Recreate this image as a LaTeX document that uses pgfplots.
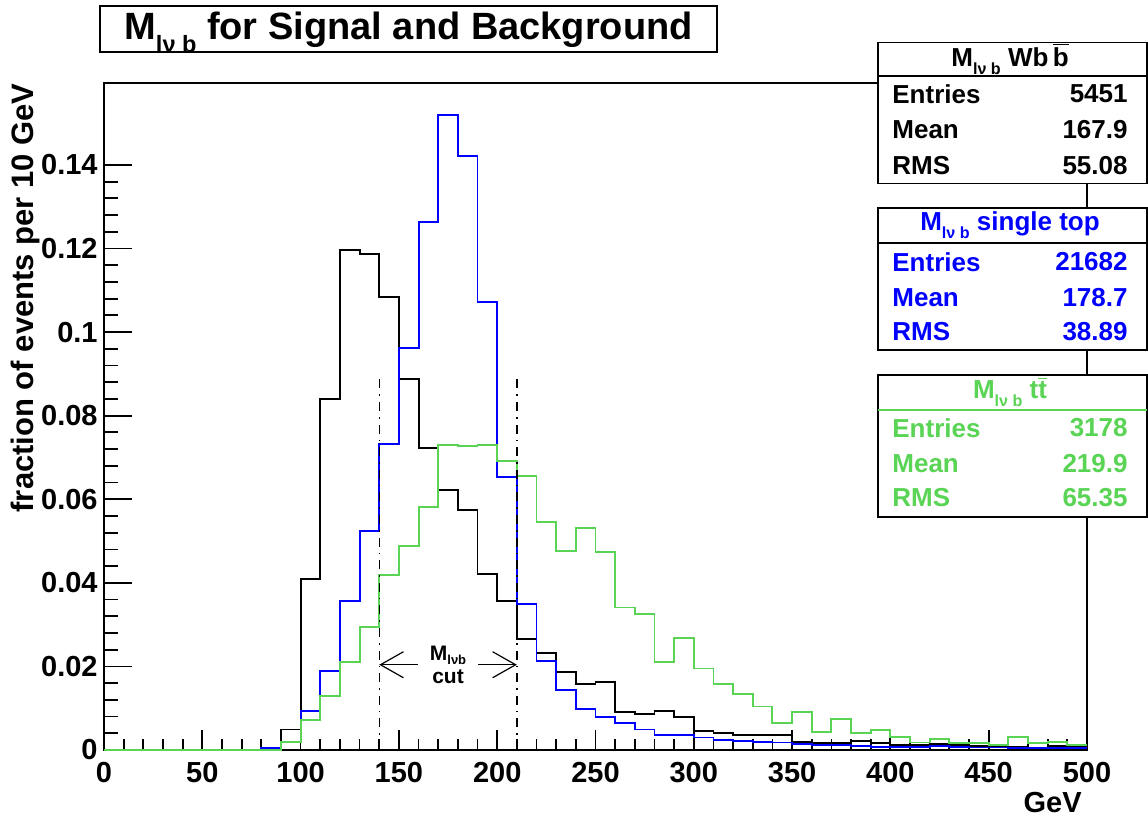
\documentclass[border=0pt]{standalone}
\usepackage{pgfplots}
\pgfplotsset{compat=1.18}
\usepackage{pgfplotstable}
\usepackage{fontspec}
\setmainfont{Liberation Sans}
\usepackage{graphicx}
\usetikzlibrary{arrows.meta}
\definecolor{rootgreen}{RGB}{89,212,84}
\definecolor{rootblue}{RGB}{0,0,255}
\newcommand{\sub}[1]{\raisebox{-0.32em}{\scalebox{0.62}{#1}}}
\newcommand{\fT}{\fontsize{19pt}{22pt}\selectfont\bfseries}
\newcommand{\fA}{\fontsize{14.5pt}{17pt}\selectfont\bfseries}
\newcommand{\fY}{\fontsize{15.5pt}{18pt}\selectfont\bfseries}
\newcommand{\fS}{\fontsize{13pt}{15pt}\selectfont\bfseries}
\newcommand{\fC}{\fontsize{10.5pt}{12pt}\selectfont\bfseries}

\pgfplotstableread{
x y
0 0
10 0
20 0
30 0
40 0
50 0
60 0
70 0
80 0
90 0.0049
100 0.0410
110 0.0840
120 0.1196
130 0.1186
140 0.1084
150 0.0888
160 0.0723
170 0.0622
180 0.0574
190 0.0422
200 0.0356
210 0.0266
220 0.0232
230 0.0187
240 0.0157
250 0.0162
260 0.0091
270 0.0086
280 0.0094
290 0.0078
300 0.0045
310 0.0040
320 0.0036
330 0.0036
340 0.0035
350 0.0019
360 0.0017
370 0.0017
380 0.0022
390 0.0017
400 0.0011
410 0.0012
420 0.0014
430 0.0011
440 0.0010
450 0.0009
460 0.0008
470 0.0006
480 0.0010
490 0.0010
500 0.0010
}\wbb

\pgfplotstableread{
x y
0 0
10 0
20 0
30 0
40 0
50 0
60 0
70 0
80 0.0004
90 0.0020
100 0.0094
110 0.0188
120 0.0356
130 0.0523
140 0.0732
150 0.0962
160 0.1264
170 0.1519
180 0.1421
190 0.1071
200 0.0654
210 0.0349
220 0.0212
230 0.0143
240 0.0098
250 0.0078
260 0.0065
270 0.0049
280 0.0036
290 0.0036
300 0.0030
310 0.0025
320 0.0021
330 0.0020
340 0.0018
350 0.0014
360 0.0012
370 0.0011
380 0.0009
390 0.0008
400 0.0008
410 0.0008
420 0.0009
430 0.0008
440 0.0006
450 0.0006
460 0.0005
470 0.0005
480 0.0005
490 0.0005
500 0.0005
}\stop

\pgfplotstableread{
x y
0 0
10 0
20 0
30 0
40 0
50 0
60 0
70 0
80 0
90 0.0020
100 0.0072
110 0.0130
120 0.0210
130 0.0294
140 0.0419
150 0.0488
160 0.0582
170 0.0730
180 0.0728
190 0.0730
200 0.0692
210 0.0656
220 0.0546
230 0.0477
240 0.0531
250 0.0474
260 0.0341
270 0.0325
280 0.0211
290 0.0268
300 0.0195
310 0.0157
320 0.0135
330 0.0104
340 0.0065
350 0.0090
360 0.0043
370 0.0075
380 0.0040
390 0.0047
400 0.0031
410 0.0018
420 0.0027
430 0.0016
440 0.0016
450 0.0012
460 0.0031
470 0.0016
480 0.0019
490 0.0012
500 0.0012
}\ttbar

\begin{document}
\begin{tikzpicture}
\useasboundingbox (0pt,0pt) rectangle (574pt,410.5pt);
% x ticks axis
\begin{axis}[at={(52pt,35.5pt)}, anchor=south west, scale only axis,
  width=491.5pt, height=333.5pt, xmin=0, xmax=500, ymin=0, ymax=0.1596,
  axis line style={draw=none},
  xtick={0,50,...,500}, xticklabels={0,50,100,150,200,250,300,350,400,450,500},
  minor x tick num=4, ytick=\empty, xtick pos=left, tick align=inside,
  major tick length=10pt, minor tick length=5.5pt,
  tick style={black, line width=0.9pt},
  xticklabel style={font=\fA, inner sep=0pt, anchor=north, yshift=-6pt}]
\end{axis}
% main axis
\begin{axis}[at={(52pt,35.5pt)}, anchor=south west, scale only axis,
  width=491.5pt, height=333.5pt, xmin=0, xmax=500, ymin=0, ymax=0.1596,
  clip=false, axis line style={black, line width=1pt},
  xtick=\empty,
  ytick={0,0.02,0.04,0.06,0.08,0.1,0.12,0.14},
  yticklabels={0,0.02,0.04,0.06,0.08,0.1,0.12,0.14},
  minor y tick num=4, ytick pos=left, tick align=inside,
  major tick length=14pt, minor tick length=7pt,
  tick style={black, line width=0.9pt},
  yticklabel style={font=\fA, inner sep=0pt, anchor=east, xshift=-3pt}]
\addplot[const plot mark left, mark=none, black, line width=0.95pt] table[x=x,y=y] {\wbb};
\addplot[const plot mark left, mark=none, rootblue, line width=0.95pt] table[x=x,y=y] {\stop};
\addplot[const plot mark left, mark=none, rootgreen, line width=0.95pt] table[x=x,y=y] {\ttbar};
\draw[black, line width=0.7pt, dash pattern=on 4.5pt off 3pt on 0.8pt off 3pt] (axis cs:140,0) -- (axis cs:140,0.0897);
\draw[black, line width=0.7pt, dash pattern=on 4.5pt off 3pt on 0.8pt off 3pt] (axis cs:210,0) -- (axis cs:210,0.0897);
\draw[black, line width=0.6pt, {Straight Barb[length=11.5pt,width=13pt]}-] (axis cs:140,0.0204) -- (axis cs:159.7,0.0204);
\draw[black, line width=0.6pt, -{Straight Barb[length=11.5pt,width=13pt]}] (axis cs:190.3,0.0204) -- (axis cs:210,0.0204);
\node[anchor=base, inner sep=0pt, font=\fC] at (axis cs:175,0.0213) {M\raisebox{-0.18em}{\scalebox{0.62}{lνb}}};
\node[anchor=base, inner sep=0pt, font=\fC] at (axis cs:175,0.0159) {cut};
\end{axis}
% title
\draw[black, line width=0.7pt, fill=white] (50pt,384.5pt) rectangle (358.5pt,407.5pt);
\node[anchor=base, inner sep=0pt, font=\fT] at (204.25pt,390.5pt) {M\sub{lν b} for Signal and Background};
% axis titles
\node[rotate=90, anchor=east, inner sep=0pt, font=\fY] at (12.75pt,369pt) {fraction of events per 10 GeV};
\node[anchor=base east, inner sep=0pt, font=\fA] at (541pt,4.5pt) {GeV};
% stat box 1
\draw[black, line width=0.7pt, fill=white] (439pt,318.75pt) rectangle (573.5pt,389.25pt);
\draw[black, line width=1.1pt] (439pt,372.5pt) -- (573.5pt,372.5pt);
\node[inner sep=0pt, font=\fS] at (505pt,381pt) {M\sub{lν b} Wb\,\ensuremath{\overline{\mbox{b}}}};
\node[anchor=west, inner sep=0pt, font=\fS] at (446pt,363.5pt) {Entries};
\node[anchor=west, inner sep=0pt, font=\fS] at (446pt,345.5pt) {Mean};
\node[anchor=west, inner sep=0pt, font=\fS] at (446pt,327.5pt) {RMS};
\node[anchor=east, inner sep=0pt, font=\fS] at (564pt,363.5pt) {5451};
\node[anchor=east, inner sep=0pt, font=\fS] at (564pt,345.5pt) {167.9};
\node[anchor=east, inner sep=0pt, font=\fS] at (564pt,327.5pt) {55.08};
% stat box 2
\draw[black, line width=0.7pt, fill=white] (439pt,235.5pt) rectangle (573.5pt,306.5pt);
\draw[black, line width=0.7pt] (439pt,289pt) -- (573.5pt,289pt);
\node[inner sep=0pt, font=\fS, text=rootblue] at (505pt,298pt) {M\sub{lν b} single top};
\node[anchor=west, inner sep=0pt, font=\fS, text=rootblue] at (446pt,279.5pt) {Entries};
\node[anchor=west, inner sep=0pt, font=\fS, text=rootblue] at (446pt,261.5pt) {Mean};
\node[anchor=west, inner sep=0pt, font=\fS, text=rootblue] at (446pt,244.5pt) {RMS};
\node[anchor=east, inner sep=0pt, font=\fS, text=rootblue] at (564pt,279.5pt) {21682};
\node[anchor=east, inner sep=0pt, font=\fS, text=rootblue] at (564pt,261.5pt) {178.7};
\node[anchor=east, inner sep=0pt, font=\fS, text=rootblue] at (564pt,244.5pt) {38.89};
% stat box 3
\draw[black, line width=0.7pt, fill=white] (439pt,152pt) rectangle (573.5pt,223pt);
\draw[rootgreen, line width=1.1pt] (439pt,205.5pt) -- (573.5pt,205.5pt);
\begin{scope}[rootgreen]
\node[inner sep=0pt, font=\fS, text=rootgreen] at (505pt,214.5pt) {M\sub{lν b} t\ensuremath{\overline{\mbox{t}}}};
\end{scope}
\node[anchor=west, inner sep=0pt, font=\fS, text=rootgreen] at (446pt,196.5pt) {Entries};
\node[anchor=west, inner sep=0pt, font=\fS, text=rootgreen] at (446pt,178.5pt) {Mean};
\node[anchor=west, inner sep=0pt, font=\fS, text=rootgreen] at (446pt,161.5pt) {RMS};
\node[anchor=east, inner sep=0pt, font=\fS, text=rootgreen] at (564pt,196.5pt) {3178};
\node[anchor=east, inner sep=0pt, font=\fS, text=rootgreen] at (564pt,178.5pt) {219.9};
\node[anchor=east, inner sep=0pt, font=\fS, text=rootgreen] at (564pt,161.5pt) {65.35};
\end{tikzpicture}
\end{document}
